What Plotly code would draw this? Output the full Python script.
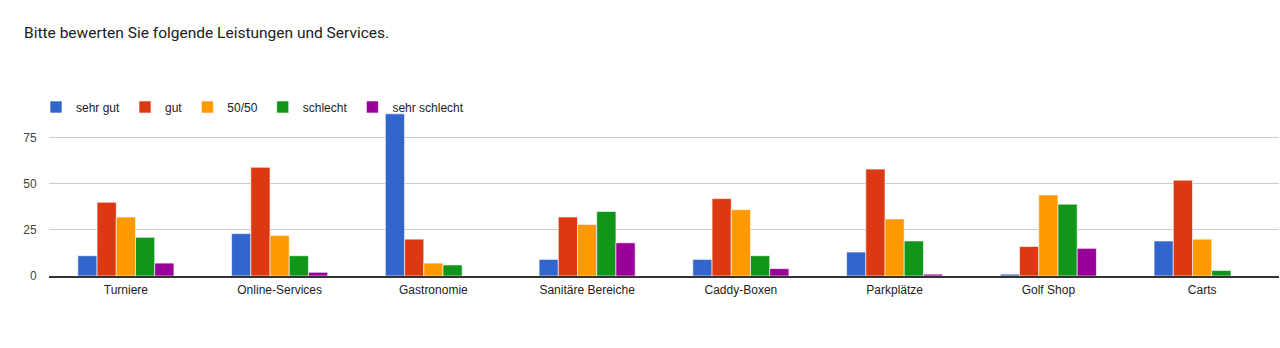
import plotly.graph_objects as go

categories = ["Turniere", "Online-Services", "Gastronomie", "Sanitäre Bereiche",
              "Caddy-Boxen", "Parkplätze", "Golf Shop", "Carts"]
series_names = ["sehr gut", "gut", "50/50", "schlecht", "sehr schlecht"]
sehr_gut = [11, 23, 88, 9, 9, 13, 1, 19]
gut = [40, 59, 20, 32, 42, 58, 16, 52]
fifty = [32, 22, 7, 28, 36, 31, 44, 20]
schlecht = [21, 11, 6, 35, 11, 19, 39, 3]
sehr_schlecht = [7, 2, 0, 18, 4, 1, 15, 0]
colors = ["#3366cc", "#dc3912", "#ff9900", "#109618", "#990099"]
tick_vals = [0, 25, 50, 75]

fig = go.Figure()
for name, vals, col in zip(series_names, [sehr_gut, gut, fifty, schlecht, sehr_schlecht], colors):
    fig.add_trace(go.Bar(name=name, x=categories, y=vals, cliponaxis=False,
                         marker=dict(color=col, line=dict(color="rgba(255,255,255,0.6)", width=1))))

fig.update_layout(
    width=1280, height=348,
    margin=dict(l=49, r=1, t=112, b=72, autoexpand=False),
    paper_bgcolor="white", plot_bgcolor="white",
    font=dict(family="Arial, 'Liberation Sans', sans-serif", size=12, color="#222222"),
    title=dict(text="Bitte bewerten Sie folgende Leistungen und Services.",
               x=24/1280, xanchor="left", xref="container",
               y=1-33/348, yanchor="middle", yref="container",
               font=dict(family="Roboto, sans-serif", size=15.5, color="#212121")),
    barmode="group", bargap=0.375, bargroupgap=0.0,
    showlegend=True,
    legend=dict(orientation="h", x=36/1280, xanchor="left", y=1-107/348, yanchor="middle",
                xref="container", yref="container", font=dict(size=12, color="#222222"),
                bgcolor="rgba(0,0,0,0)", traceorder="normal", itemwidth=30),
    xaxis=dict(showgrid=False, showline=True, linecolor="#333333", linewidth=1.5,
               ticks="outside", ticklen=2, tickcolor="white",
               tickfont=dict(size=12, color="#222222")),
    yaxis=dict(range=[0, 89], tickvals=tick_vals, showgrid=True, gridcolor="#cccccc",
               gridwidth=1, zeroline=False, showline=False, ticks="outside", ticklen=9,
               tickcolor="white", tickfont=dict(size=12, color="#444444")),
)

fig.write_html("out.html")
